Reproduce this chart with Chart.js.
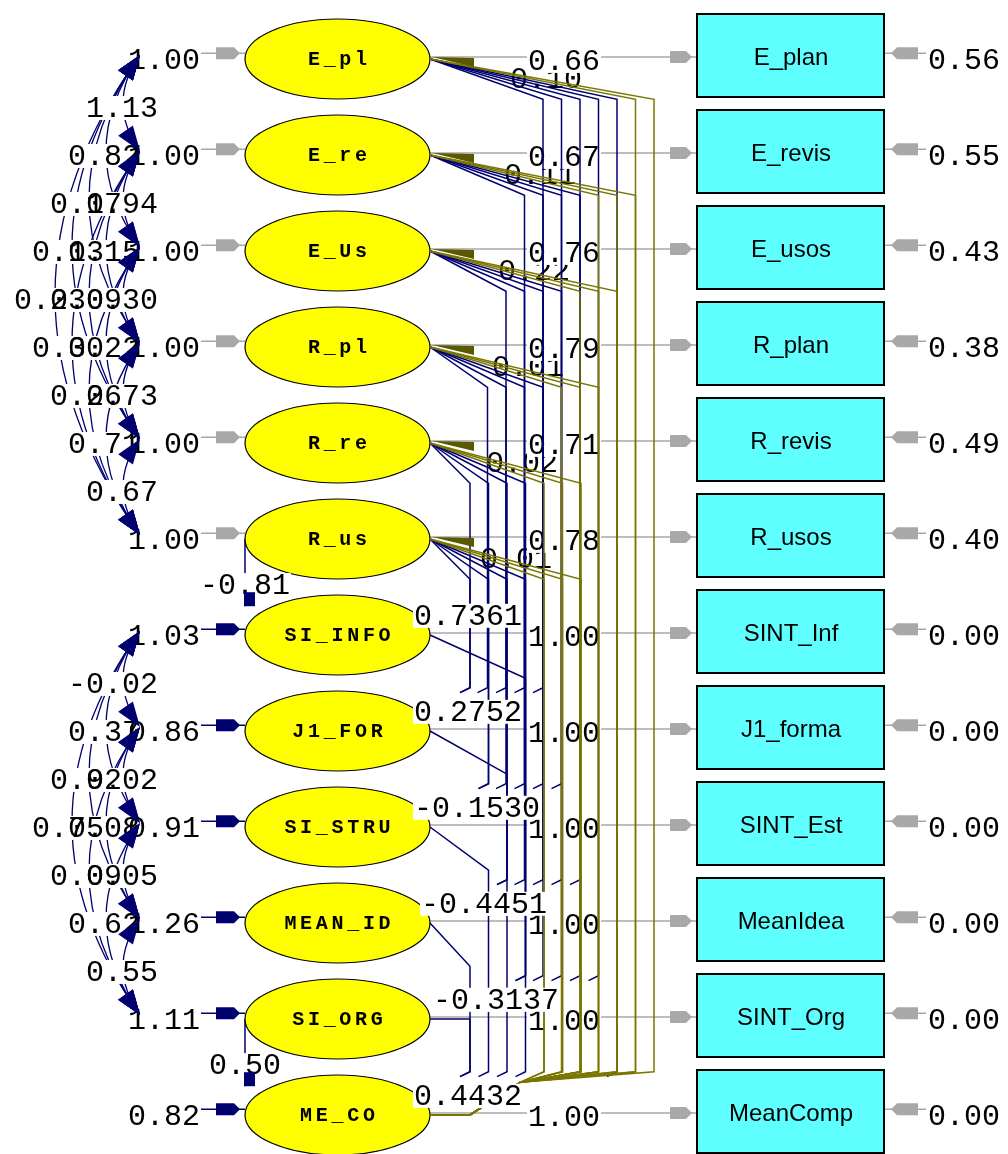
<!DOCTYPE html>
<html>
<head>
<meta charset="utf-8">
<script src="https://cdn.jsdelivr.net/npm/chart.js@4.4.1/dist/chart.umd.min.js"></script>
<style>
  html, body { margin: 0; padding: 0; background: #fff; overflow: hidden; }
  canvas { display: block; }
</style>
</head>
<body>
<canvas id="pathChart" width="1008" height="1154"></canvas>
<script>
// one row per latent variable / indicator
const latentNames = ['E_pl', 'E_re', 'E_Us', 'R_pl', 'R_re', 'R_us', 'SI_INFO', 'J1_FOR', 'SI_STRU', 'MEAN_ID', 'SI_ORG', 'ME_CO'];
const latentVariances = ['1.00', '1.00', '1.00', '1.00', '1.00', '1.00', '1.03', '0.86', '0.91', '1.26', '1.11', '0.82'];
const indicatorNames = ['E_plan', 'E_revis', 'E_usos', 'R_plan', 'R_revis', 'R_usos', 'SINT_Inf', 'J1_forma', 'SINT_Est', 'MeanIdea', 'SINT_Org', 'MeanComp'];
const loadings = ['0.66', '0.67', '0.76', '0.79', '0.71', '0.78', '1.00', '1.00', '1.00', '1.00', '1.00', '1.00'];
const errorVariances = ['0.56', '0.55', '0.43', '0.38', '0.49', '0.40', '0.00', '0.00', '0.00', '0.00', '0.00', '0.00'];

// covariances drawn as arcs on the left
const arcFrom = [0, 0, 0, 1, 0, 1, 0, 1, 2, 1, 2, 2, 3, 3, 4, 6, 6, 6, 7, 6, 7, 7, 8, 8, 9];
const arcTo = [1, 2, 3, 2, 4, 3, 5, 4, 3, 5, 4, 5, 4, 5, 5, 7, 8, 9, 8, 10, 9, 10, 9, 10, 10];
const arcValues = ['1.13', '0.82', '0.17', '0.94', '0.13', '0.15', '0.23', '0.09', '0.30', '0.30', '0.22', '0.26', '0.73', '0.71', '0.67',
  '-0.02', '0.37', '0.92', '0.02', '0.75', '0.08', '0.09', '0.05', '0.62', '0.55'];

// direct paths on the left side
const pathFrom = [5, 10];
const pathTo = [6, 11];
const pathValues = ['-0.81', '0.50'];

// right side: links leaving each of the first six factors
const fanNavyTargets = [[6, 7, 8, 9, 10], [6, 7, 8, 9], [6, 7, 8, 9], [6, 7, 8, 9], [6, 7, 8, 9], [6, 7, 8, 9]];
const fanOliveCount = [2, 3, 3, 3, 3, 3];
const fanValues = ['0.10', '0.11', '0.22', '0.01', '0.02', '0.01'];
// labels right of the lower factors
const meValues = ['0.73', '0.27', '-0.15', '-0.44', '-0.31', '0.44'];
const meValues2 = ['0.61', '0.52', '0.30', '0.51', '0.37', '0.32'];

// layout
const meX = [414, 414, 414, 421, 433, 414];
const meX2 = [450, 450, 468, 475, 487, 450];
const navy = '#000070', olive = '#7a7600', gray = '#a8a8a8';
const MONO = '30px "Liberation Mono"';
const CH = 18;

const datasets = [];
function addLine(points, color, layer, order) {
  datasets.push({
    data: points.map(p => ({ x: p[0], y: p[1] })),
    showLine: true, borderColor: color, borderWidth: 1.5,
    pointRadius: 0, pointHoverRadius: 0, fill: false,
    order: order, layer: layer
  });
}

latentNames.forEach((n, r) => {
  addLine([[430, r - 0.02], [697, r - 0.02]], gray, 'base', 5);
  addLine([[884, r - 0.06], [926, r - 0.06]], gray, 'base', 5);
  addLine([[200, r - 0.06], [245, r - 0.06]], r < 6 ? gray : navy, 'base', 5);
});
pathFrom.forEach((a, k) => addLine([[245, a], [245, pathTo[k] - 0.3]], navy, 'base', 5));

// links from the first six factors
for (let i = 0; i < 6; i++) {
  const base = Math.max(470, 543 - 18.5 * i);
  const navyT = fanNavyTargets[i];
  navyT.forEach((t, k) => {
    const x = base + 18.5 * k;
    addLine([[430, i], [x, i + 0.42], [x, t + 0.55], [x - 10, t + 0.6]], navy, 'top', 2);
  });
  for (let k = 0; k < fanOliveCount[i]; k++) {
    const x = base + 18.5 * (navyT.length + k);
    addLine([[430, i], [x, i + 0.42], [x, 10.55], [520, 10.66], [470, 11], [430, 11]], olive, 'top', 1);
  }
}
// links from the lower factors to ME_CO
for (let s = 6; s < 11; s++) {
  const x = 470 + 18.5 * Math.max(0, 9 - s);
  const drop = Math.min(0.45, 10 - s);
  addLine([[430, s], [x, s + drop], [x, 10.55], [x - 10, 10.6]], navy, 'top', 2);
}

function monoText(ctx, text, x, y, bg) {
  ctx.font = MONO;
  ctx.textBaseline = 'middle';
  ctx.textAlign = 'left';
  if (bg) {
    ctx.fillStyle = '#fff';
    ctx.fillRect(x - 1, y - 12, text.length * CH + 2, 24);
  }
  ctx.fillStyle = '#000';
  ctx.fillText(text, x, y + 1);
}

function head(ctx, tx, ty, dx, dy, len, half, color) {
  const m = Math.hypot(dx, dy); dx /= m; dy /= m;
  const bx = tx - dx * len, by = ty - dy * len;
  ctx.beginPath();
  ctx.moveTo(tx, ty);
  ctx.lineTo(bx - dy * half, by + dx * half);
  ctx.lineTo(bx + dy * half, by - dx * half);
  ctx.closePath();
  ctx.fillStyle = color; ctx.fill();
}

function block(ctx, x0, x1, y, dir, color) {
  ctx.beginPath();
  if (dir > 0) {
    ctx.moveTo(x0, y - 6); ctx.lineTo(x1 - 6, y - 6); ctx.lineTo(x1, y);
    ctx.lineTo(x1 - 6, y + 6); ctx.lineTo(x0, y + 6);
  } else {
    ctx.moveTo(x1, y - 6); ctx.lineTo(x0 + 6, y - 6); ctx.lineTo(x0, y);
    ctx.lineTo(x0 + 6, y + 6); ctx.lineTo(x1, y + 6);
  }
  ctx.closePath();
  ctx.fillStyle = color; ctx.fill();
}

function drawMiddle(chart) {
  const ctx = chart.ctx;
  const X = v => chart.scales.x.getPixelForValue(v);
  const Y = r => chart.scales.y.getPixelForValue(r);
  ctx.save();

  latentNames.forEach((name, r) => {
    ctx.beginPath();
    ctx.ellipse(X(337.5), Y(r), 92.5, 40, 0, 0, Math.PI * 2);
    ctx.fillStyle = '#ffff00'; ctx.fill();
    ctx.lineWidth = 1.2; ctx.strokeStyle = '#000'; ctx.stroke();
    ctx.font = 'bold 20px "Liberation Mono"';
    ctx.textAlign = 'center'; ctx.textBaseline = 'middle'; ctx.fillStyle = '#000';
    const step = 15.7, x0 = X(337.5) - (name.length - 1) * step / 2;
    for (let c = 0; c < name.length; c++) ctx.fillText(name[c], x0 + c * step, Y(r) + 1);
  });

  indicatorNames.forEach((name, r) => {
    const x0 = X(697), w = X(884) - X(697), top = Y(r) - 45;
    ctx.fillStyle = '#5fffff'; ctx.fillRect(x0, top, w, 83);
    ctx.lineWidth = 2; ctx.strokeStyle = '#000'; ctx.strokeRect(x0, top, w, 83);
    ctx.font = '24px "Liberation Sans"';
    ctx.textAlign = 'center'; ctx.textBaseline = 'middle'; ctx.fillStyle = '#000';
    ctx.fillText(name, X(791), Y(r) - 1);
  });

  // covariance arcs
  const heads = [];
  ctx.strokeStyle = navy; ctx.lineWidth = 1.3;
  arcFrom.forEach((a, k) => {
    const b = arcTo[k], span = b - a;
    const x0 = X(140), y0 = Y(a) - 4, y1 = Y(b) - 4;
    const cx = x0 - 34 * span, cy = (y0 + y1) / 2;
    ctx.beginPath(); ctx.moveTo(x0, y0); ctx.quadraticCurveTo(cx, cy, x0, y1); ctx.stroke();
    heads.push([x0, y0, x0 - cx, y0 - cy], [x0, y1, x0 - cx, y1 - cy]);
  });

  // fan labels sit under the link lines
  fanValues.forEach((v, i) => {
    ctx.font = MONO; ctx.textAlign = 'left'; ctx.textBaseline = 'middle'; ctx.fillStyle = '#000';
    ctx.fillText(v, X(582 - 6 * i - CH * v.length), Y(i + 0.22));
  });

  // numeric labels: white boxes first, then the digits
  const labels = [];
  latentVariances.forEach((v, r) => labels.push([v, 200 - CH * v.length, r + 0.01]));
  arcValues.forEach((v, k) => {
    const span = arcTo[k] - arcFrom[k];
    labels.push([v, 158 - CH * (span - 1) - CH * v.length, (arcFrom[k] + arcTo[k]) / 2 + 0.01]);
  });
  loadings.forEach((v, r) => labels.push([v, 528, r + 0.02]));
  errorVariances.forEach((v, r) => labels.push([v, 928, r + 0.01]));
  pathValues.forEach((v, k) => labels.push([v, 245 - CH * v.length / 2, (pathFrom[k] + pathTo[k]) / 2 - 0.02]));
  ctx.fillStyle = '#fff';
  labels.forEach(l => ctx.fillRect(X(l[1]) - 1, Y(l[2]) - 12, l[0].length * CH + 2, 24));
  labels.forEach(l => monoText(ctx, l[0], X(l[1]), Y(l[2]), false));

  heads.forEach(h => head(ctx, h[0], h[1], h[2], h[3], 25, 9, navy));

  latentNames.forEach((n, r) => {
    block(ctx, X(216), X(240), Y(r - 0.06), 1, r < 6 ? gray : navy);
    block(ctx, X(670), X(692), Y(r - 0.02), 1, gray);
    block(ctx, X(891), X(918), Y(r - 0.06), -1, gray);
  });
  pathTo.forEach(t => {
    ctx.beginPath();
    const x = X(245), y = Y(t - 0.3);
    ctx.moveTo(x - 1, y - 14); ctx.lineTo(x + 10, y - 14); ctx.lineTo(x + 10, y); ctx.lineTo(x - 1, y);
    ctx.closePath(); ctx.fillStyle = navy; ctx.fill();
  });
  ctx.restore();
}

function drawTop(chart) {
  const ctx = chart.ctx;
  const X = v => chart.scales.x.getPixelForValue(v);
  const Y = r => chart.scales.y.getPixelForValue(r);
  ctx.save();
  for (let r = 0; r < 6; r++) {
    ctx.beginPath();
    ctx.moveTo(X(432), Y(r) - 2); ctx.lineTo(X(474), Y(r) - 1); ctx.lineTo(X(474), Y(r) + 8);
    ctx.closePath(); ctx.fillStyle = '#5a5800'; ctx.fill();
  }
  meValues.forEach((v, k) => {
    const r = k + 6;
    monoText(ctx, meValues2[k], X(meX2[k]), Y(r - 0.2), true);
    monoText(ctx, v, X(meX[k]), Y(r - 0.2), true);
  });
  ctx.restore();
}

const diagramPlugin = {
  id: 'diagram',
  beforeDraw(chart) { chart.$midDone = false; },
  beforeDatasetDraw(chart, args) {
    if (!chart.$midDone && chart.data.datasets[args.index].layer === 'top') {
      drawMiddle(chart);
      chart.$midDone = true;
    }
  },
  afterDatasetsDraw(chart) { drawTop(chart); }
};

new Chart(document.getElementById('pathChart').getContext('2d'), {
  type: 'scatter',
  data: { datasets: datasets },
  options: {
    responsive: false,
    animation: false,
    devicePixelRatio: 1,
    events: [],
    layout: { padding: 0 },
    plugins: { legend: { display: false }, tooltip: { enabled: false } },
    scales: {
      x: { type: 'linear', min: 0, max: 1008, display: false },
      y: { type: 'linear', min: -0.6146, max: 11.4063, reverse: true, display: false }
    }
  },
  plugins: [diagramPlugin]
});
</script>
</body>
</html>
